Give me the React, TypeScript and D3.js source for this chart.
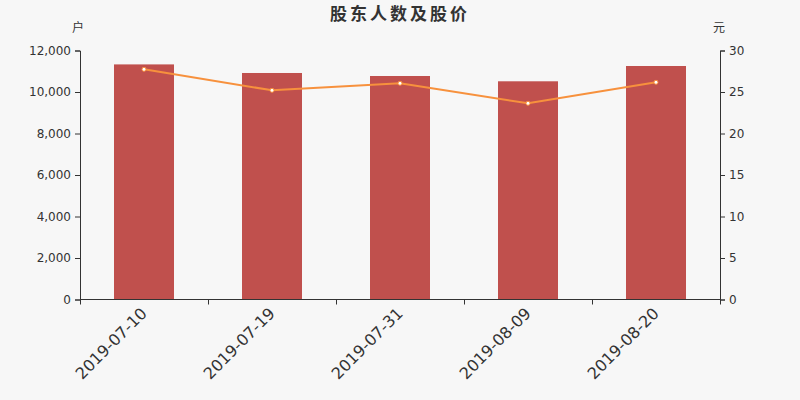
import { useEffect, useRef } from "react";
import * as d3 from "d3";

const dates = ["2019-07-10", "2019-07-19", "2019-07-31", "2019-08-09", "2019-08-20"];
const holders = [11330, 10916, 10771, 10516, 11253];
const prices = [27.73, 25.2, 26.05, 23.64, 26.17];
const leftTicks = [0, 2000, 4000, 6000, 8000, 10000, 12000];
const rightTicks = [0, 5, 10, 15, 20, 25, 30];

export default function App() {
  const containerRef = useRef<HTMLDivElement>(null);

  useEffect(() => {
    if (!containerRef.current) return;
    const container = containerRef.current;
    while (container.firstChild) {
      container.removeChild(container.firstChild);
    }

    const width = 800;
    const height = 400;
    const margin = { top: 50.5, right: 80, bottom: 100.5, left: 80 };
    const font = "'DejaVu Sans', sans-serif";

    const svg = d3.select(container)
      .append("svg")
      .attr("width", width)
      .attr("height", height)
      .style("display", "block")
      .style("background", "#f7f7f7");

    const x = d3.scaleBand()
      .domain(dates)
      .range([margin.left, width - margin.right]);

    const yLeft = d3.scaleLinear()
      .domain([0, 12000])
      .range([height - margin.bottom, margin.top]);

    const yRight = d3.scaleLinear()
      .domain([0, 30])
      .range([height - margin.bottom, margin.top]);

    // Title
    svg.append("text")
      .attr("x", 400)
      .attr("y", 20)
      .attr("text-anchor", "middle")
      .attr("font-family", "'Noto Sans CJK SC', sans-serif")
      .attr("font-size", 17)
      .attr("font-weight", "bold")
      .attr("letter-spacing", 3)
      .attr("fill", "#333")
      .text("股东人数及股价");

    // Unit labels
    svg.append("text")
      .attr("x", 78)
      .attr("y", 32)
      .attr("text-anchor", "middle")
      .attr("font-family", "'Noto Sans CJK SC', sans-serif")
      .attr("font-size", 12)
      .attr("fill", "#333")
      .text("户");

    svg.append("text")
      .attr("x", 719)
      .attr("y", 32)
      .attr("text-anchor", "middle")
      .attr("font-family", "'Noto Sans CJK SC', sans-serif")
      .attr("font-size", 12)
      .attr("fill", "#333")
      .text("元");

    // Bars
    const barWidth = 60;
    svg.append("g")
      .selectAll("rect")
      .data(dates)
      .enter()
      .append("rect")
      .attr("x", d => (x(d) as number) + x.bandwidth() / 2 - barWidth / 2)
      .attr("y", (_, i) => yLeft(holders[i]))
      .attr("width", barWidth)
      .attr("height", (_, i) => yLeft(0) - yLeft(holders[i]))
      .attr("fill", "#c0504d");

    // Left axis
    svg.append("g")
      .attr("transform", `translate(${margin.left},0)`)
      .call(d3.axisLeft(yLeft).tickValues(leftTicks).tickSize(5).tickPadding(4).tickFormat(d3.format(",")))
      .call(g => g.select(".domain").attr("stroke", "#333"))
      .call(g => g.selectAll(".tick line").attr("stroke", "#333"))
      .call(g => g.selectAll(".tick text").attr("fill", "#333").attr("font-size", "12px").attr("font-family", font));

    // Right axis
    svg.append("g")
      .attr("transform", `translate(${width - margin.right},0)`)
      .call(d3.axisRight(yRight).tickValues(rightTicks).tickSize(5).tickPadding(4))
      .call(g => g.select(".domain").attr("stroke", "#333"))
      .call(g => g.selectAll(".tick line").attr("stroke", "#333"))
      .call(g => g.selectAll(".tick text").attr("fill", "#333").attr("font-size", "12px").attr("font-family", font));

    // X axis with ticks at band boundaries
    const xAxis = svg.append("g")
      .attr("transform", `translate(0,${height - margin.bottom})`);

    xAxis.append("line")
      .attr("x1", margin.left)
      .attr("x2", width - margin.right)
      .attr("stroke", "#333");

    const boundaries = dates.map(d => x(d) as number).concat([width - margin.right]);
    xAxis.selectAll(".xtick")
      .data(boundaries)
      .enter()
      .append("line")
      .attr("x1", d => Math.round(d) + 0.5)
      .attr("x2", d => Math.round(d) + 0.5)
      .attr("y1", 0)
      .attr("y2", 5)
      .attr("stroke", "#333");

    xAxis.selectAll(".xlabel")
      .data(dates)
      .enter()
      .append("text")
      .attr("transform", d => `translate(${(x(d) as number) + x.bandwidth() / 2},${11}) rotate(-45)`)
      .attr("text-anchor", "end")
      .attr("dy", "0.35em")
      .attr("font-family", font)
      .attr("font-size", 16)
      .attr("fill", "#333")
      .text(d => d);

    // Price line
    const line = d3.line<number>()
      .x((_, i) => (x(dates[i]) as number) + x.bandwidth() / 2)
      .y(d => yRight(d));

    svg.append("path")
      .datum(prices)
      .attr("fill", "none")
      .attr("stroke", "#f7913d")
      .attr("stroke-width", 2)
      .attr("d", line);

    svg.append("g")
      .selectAll("circle")
      .data(prices)
      .enter()
      .append("circle")
      .attr("cx", (_, i) => (x(dates[i]) as number) + x.bandwidth() / 2)
      .attr("cy", d => yRight(d))
      .attr("r", 2)
      .attr("fill", "#fff")
      .attr("stroke", "#f7913d")
      .attr("stroke-width", 1);
  }, []);

  return (
    <div ref={containerRef} style={{ position: "absolute", left: 0, top: 0, width: 800, height: 400 }}></div>
  );
}
